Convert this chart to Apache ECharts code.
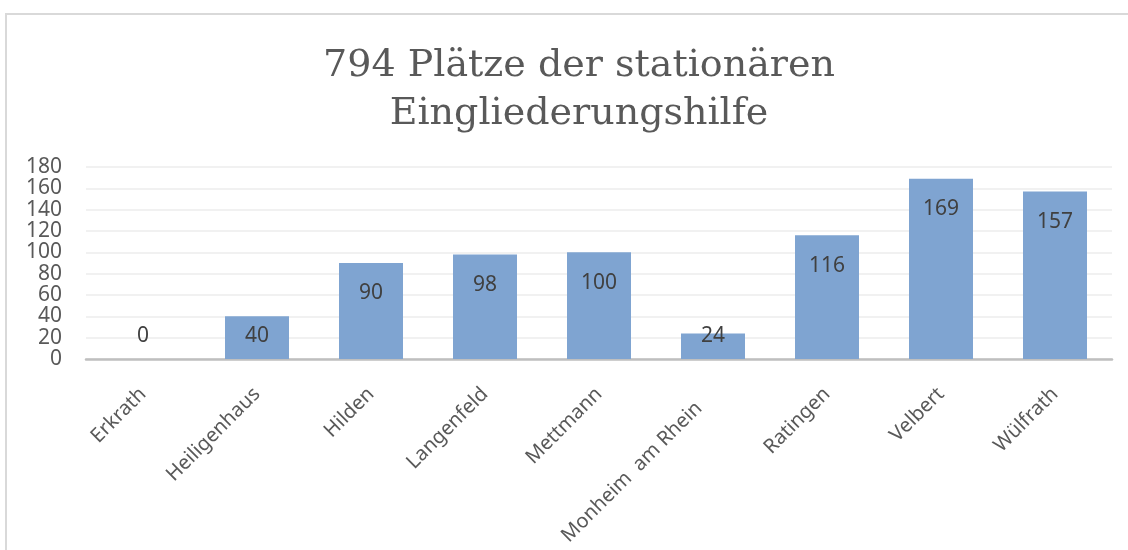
<!DOCTYPE html>
<html>
<head>
<meta charset="utf-8">
<script src="https://cdn.jsdelivr.net/npm/echarts@6/dist/echarts.min.js"></script>
<style>
html,body{margin:0;padding:0;background:#fff;}
#c{width:1128px;height:550px;}
</style>
</head>
<body>
<div id="c"></div>
<script>
const titleText = '794 Plätze der stationären\nEingliederungshilfe';
const categories = ['Erkrath', 'Heiligenhaus', 'Hilden', 'Langenfeld', 'Mettmann', 'Monheim  am Rhein', 'Ratingen', 'Velbert', 'Wülfrath'];
const values = [0, 40, 90, 98, 100, 24, 116, 169, 157];
const yTicks = { min: 0, max: 180, interval: 20 };

const chart = echarts.init(document.getElementById('c'), null, { renderer: 'canvas' });

const data = values.map(v => ({
  value: v,
  label: v < 55
    ? { position: 'insideBottom', distance: 12 }
    : { position: 'insideTop', distance: 20 }
}));

chart.setOption({
  animation: false,
  backgroundColor: '#ffffff',
  graphic: [{
    type: 'rect',
    shape: { x: 6, y: 14, width: 1300, height: 700 },
    style: { fill: 'none', stroke: '#d9d9d9', lineWidth: 2 },
    silent: true
  }],
  title: {
    text: titleText,
    left: 574,
    top: 37,
    textAlign: 'center',
    textStyle: {
      fontFamily: 'DejaVu Serif',
      fontWeight: 'normal',
      fontSize: 38,
      lineHeight: 48,
      color: '#595959'
    }
  },
  grid: { left: 86, right: 16, top: 167, bottom: 191, containLabel: false, outerBoundsMode: 'none' },
  xAxis: {
    type: 'category',
    data: categories,
    axisLine: { show: true, lineStyle: { color: '#bfbfbf', width: 2.5 } },
    axisTick: { show: false },
    axisLabel: {
      rotate: 45,
      interval: 0,
      margin: 32,
      hideOverlap: false,
      fontFamily: 'Noto Sans',
      fontSize: 20,
      color: '#595959',
      formatter: function (v) {
        return v.indexOf('Monheim') === 0 ? '{pad|' + v + '}' : v;
      },
      rich: {
        pad: { padding: [0, 20, 0, 0], fontFamily: 'Noto Sans', fontSize: 20, color: '#595959' }
      }
    }
  },
  yAxis: {
    type: 'value',
    min: yTicks.min,
    max: yTicks.max,
    interval: yTicks.interval,
    axisLine: { show: false },
    axisTick: { show: false },
    splitLine: { lineStyle: { color: '#ececec', width: 1.5 } },
    axisLabel: {
      margin: 24,
      showMinLabel: true,
      showMaxLabel: true,
      hideOverlap: false,
      fontFamily: 'Noto Sans',
      fontSize: 21,
      color: '#595959'
    }
  },
  series: [{
    type: 'bar',
    data: data,
    barWidth: 64,
    itemStyle: { color: '#7fa4d1' },
    label: {
      show: true,
      fontFamily: 'Noto Sans',
      fontSize: 21,
      color: '#404040'
    }
  }]
});
</script>
</body>
</html>
